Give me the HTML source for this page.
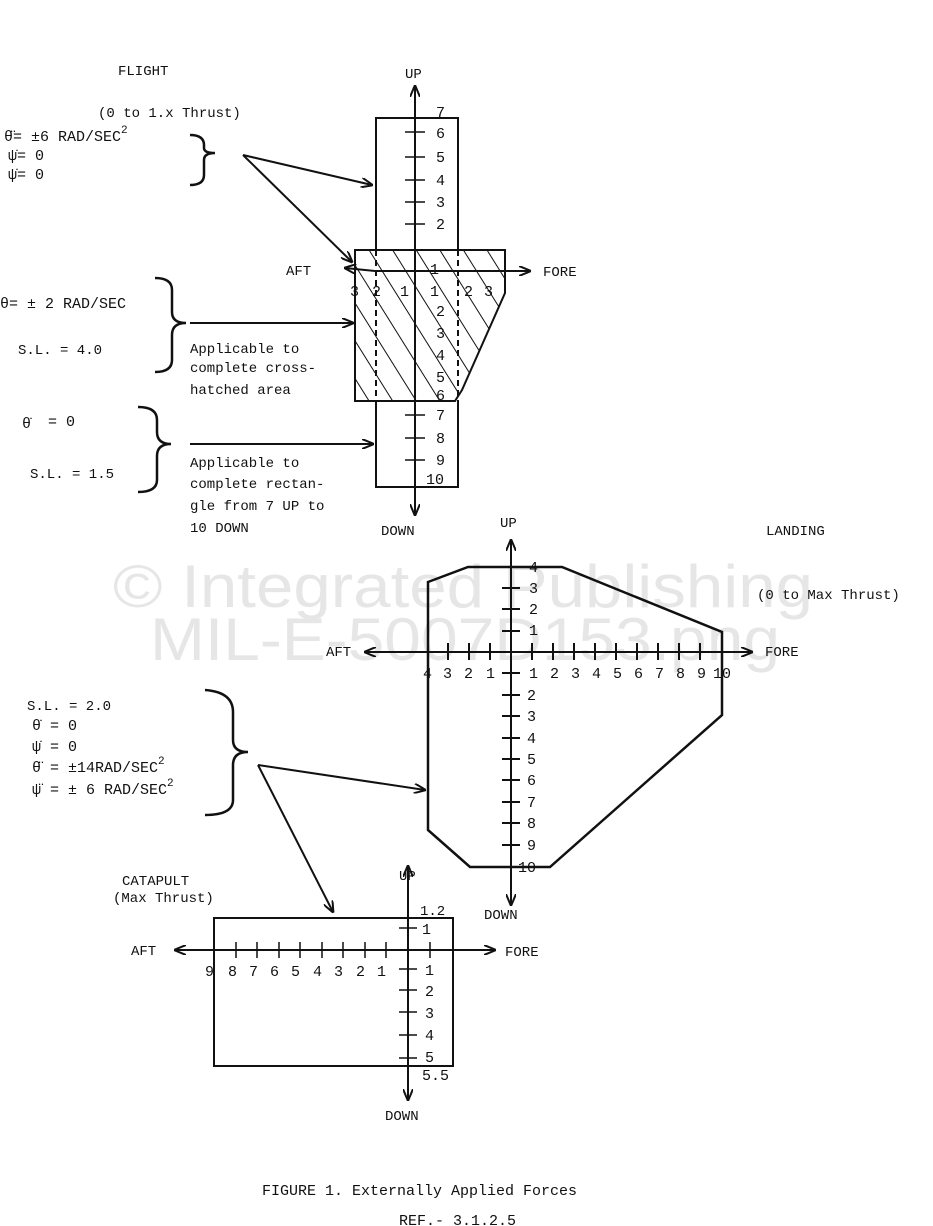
<!DOCTYPE html>
<html><head><meta charset="utf-8"><style>
html,body{margin:0;padding:0;background:#fff;}
svg{display:block}
text{font-family:"Liberation Mono",monospace;font-size:15px;fill:#111}
.s{font-size:14px}
.w{font-family:"Liberation Sans",sans-serif;font-size:60px;fill:#e6e6e6}
</style></head><body>
<svg width="933" height="1226" viewBox="0 0 933 1226" xmlns="http://www.w3.org/2000/svg">
<defs>
<pattern id="h" patternUnits="userSpaceOnUse" width="20" height="20" patternTransform="rotate(-32)">
<line x1="0" y1="0" x2="0" y2="20" stroke="#111" stroke-width="2"/>
</pattern>
<marker id="a" markerWidth="12" markerHeight="10" refX="11" refY="5" orient="auto" markerUnits="userSpaceOnUse"><path d="M0,0 L12,5 L0,10" fill="none" stroke="#111" stroke-width="2"/></marker>
</defs>
<text x="113" y="607" class="w" textLength="700" lengthAdjust="spacingAndGlyphs">© Integrated Publishing</text>
<text x="150" y="660" class="w" textLength="630" lengthAdjust="spacingAndGlyphs">MIL-E-5007D153.png</text>
<g stroke="#111" stroke-width="2" fill="none">
<polygon points="355,250 505,250 505,293 462,390 455,401 355,401" fill="url(#h)"/>
<polyline points="376,250 376,118 458,118 458,250"/>
<polyline points="376,401 376,487 458,487 458,401"/>
<line x1="376" y1="250" x2="376" y2="401" stroke-dasharray="6,4"/>
<line x1="458" y1="250" x2="458" y2="401" stroke-dasharray="6,4"/>
<line x1="415" y1="515" x2="415" y2="86" marker-end="url(#a)"/>
<line x1="415" y1="487" x2="415" y2="515" marker-end="url(#a)"/>
<line x1="375" y1="271" x2="530" y2="271" marker-end="url(#a)"/>
<line x1="375" y1="271" x2="345" y2="268" marker-end="url(#a)"/>
<g stroke-width="1.5">
<line x1="405" y1="132" x2="425" y2="132"/><line x1="405" y1="157" x2="425" y2="157"/><line x1="405" y1="180" x2="425" y2="180"/><line x1="405" y1="202" x2="425" y2="202"/><line x1="405" y1="224" x2="425" y2="224"/>
<line x1="405" y1="415" x2="425" y2="415"/><line x1="405" y1="438" x2="425" y2="438"/><line x1="405" y1="460" x2="425" y2="460"/>
</g>
<line x1="243" y1="155" x2="372" y2="185" marker-end="url(#a)"/>
<line x1="243" y1="155" x2="352" y2="262" marker-end="url(#a)"/>
<line x1="190" y1="323" x2="353" y2="323" marker-end="url(#a)"/>
<line x1="190" y1="444" x2="373" y2="444" marker-end="url(#a)"/>
<g stroke-width="2.5">
<path d="M190,135 Q204,135 204,145 L204,148 Q204,153 215,153 Q204,153 204,160 L204,175 Q204,185 190,185"/>
<path d="M155,278 Q172,278 172,290 L172,312 Q172,323 186,323 Q172,323 172,335 L172,360 Q172,372 155,372"/>
<path d="M138,407 Q157,407 157,420 L157,432 Q157,444 171,444 Q157,444 157,456 L157,480 Q157,492 138,492"/>
<path d="M205,690 Q233,692 233,712 L233,740 Q233,752 248,752 Q233,752 233,765 L233,800 Q233,815 205,815"/>
</g>
<polygon points="428,582 468,567 562,567 722,632 722,715 550,867 470,867 428,830" stroke-width="2.5"/>
<line x1="511" y1="905" x2="511" y2="540" marker-end="url(#a)"/>
<line x1="511" y1="867" x2="511" y2="905" marker-end="url(#a)"/>
<line x1="428" y1="652" x2="752" y2="652" marker-end="url(#a)"/>
<line x1="428" y1="652" x2="365" y2="652" marker-end="url(#a)"/>
<g stroke-width="2">
<line x1="448" y1="643" x2="448" y2="660"/><line x1="469" y1="643" x2="469" y2="660"/><line x1="490" y1="643" x2="490" y2="660"/>
<line x1="532" y1="643" x2="532" y2="660"/><line x1="553" y1="643" x2="553" y2="660"/><line x1="574" y1="643" x2="574" y2="660"/><line x1="595" y1="643" x2="595" y2="660"/><line x1="616" y1="643" x2="616" y2="660"/><line x1="637" y1="643" x2="637" y2="660"/><line x1="658" y1="643" x2="658" y2="660"/><line x1="679" y1="643" x2="679" y2="660"/><line x1="700" y1="643" x2="700" y2="660"/>
<line x1="502" y1="631" x2="520" y2="631"/><line x1="502" y1="609" x2="520" y2="609"/><line x1="502" y1="588" x2="520" y2="588"/>
<line x1="502" y1="673" x2="520" y2="673"/><line x1="502" y1="695" x2="520" y2="695"/><line x1="502" y1="716" x2="520" y2="716"/><line x1="502" y1="738" x2="520" y2="738"/><line x1="502" y1="759" x2="520" y2="759"/><line x1="502" y1="780" x2="520" y2="780"/><line x1="502" y1="802" x2="520" y2="802"/><line x1="502" y1="823" x2="520" y2="823"/><line x1="502" y1="845" x2="520" y2="845"/>
</g>
<line x1="258" y1="765" x2="425" y2="790" marker-end="url(#a)"/>
<line x1="258" y1="765" x2="333" y2="912" marker-end="url(#a)"/>
<rect x="214" y="918" width="239" height="148"/>
<line x1="408" y1="1100" x2="408" y2="866" marker-end="url(#a)"/>
<line x1="408" y1="1066" x2="408" y2="1100" marker-end="url(#a)"/>
<line x1="214" y1="950" x2="495" y2="950" marker-end="url(#a)"/>
<line x1="214" y1="950" x2="175" y2="950" marker-end="url(#a)"/>
<g stroke-width="1.5">
<line x1="236" y1="942" x2="236" y2="958"/><line x1="257" y1="942" x2="257" y2="958"/><line x1="279" y1="942" x2="279" y2="958"/><line x1="300" y1="942" x2="300" y2="958"/><line x1="322" y1="942" x2="322" y2="958"/><line x1="343" y1="942" x2="343" y2="958"/><line x1="365" y1="942" x2="365" y2="958"/><line x1="386" y1="942" x2="386" y2="958"/><line x1="430" y1="942" x2="430" y2="958"/>
<line x1="399" y1="928" x2="417" y2="928"/><line x1="399" y1="969" x2="417" y2="969"/><line x1="399" y1="990" x2="417" y2="990"/><line x1="399" y1="1012" x2="417" y2="1012"/><line x1="399" y1="1035" x2="417" y2="1035"/><line x1="399" y1="1058" x2="417" y2="1058"/>
</g>
</g>
<text x="118" y="75" class="s">FLIGHT</text>
<text x="405" y="78" class="s">UP</text>
<text x="98" y="117" class="s">(0 to 1.x Thrust)</text>
<text x="4" y="141">θ̈= ±6 RAD/SEC<tspan dy="-8" font-size="11">2</tspan></text>
<text x="8" y="160">ψ̇= 0</text>
<text x="8" y="179">ψ̇= 0</text>
<g class="s">
<text x="436" y="117">7</text><text x="436" y="138">6</text><text x="436" y="162">5</text><text x="436" y="185">4</text><text x="436" y="207">3</text><text x="436" y="229">2</text>
<text x="430" y="274">1</text><text x="430" y="296">1</text><text x="436" y="316">2</text><text x="436" y="338">3</text><text x="436" y="360">4</text><text x="436" y="382">5</text><text x="436" y="400">6</text>
<text x="436" y="420">7</text><text x="436" y="443">8</text><text x="436" y="465">9</text><text x="426" y="484">10</text>
<text x="350" y="296">3</text><text x="372" y="296">2</text><text x="400" y="296">1</text><text x="464" y="296">2</text><text x="484" y="296">3</text>
</g>
<text x="286" y="275" class="s">AFT</text>
<text x="543" y="276" class="s">FORE</text>
<text x="0" y="308">θ= ± 2 RAD/SEC</text>
<text x="18" y="354" class="s">S.L. = 4.0</text>
<text x="190" y="353" class="s">Applicable to</text>
<text x="190" y="372" class="s">complete cross-</text>
<text x="190" y="394" class="s">hatched area</text>
<text x="22" y="428" font-size="22">θ̇</text><text x="48" y="426">= 0</text>
<text x="30" y="478" class="s">S.L. = 1.5</text>
<text x="190" y="467" class="s">Applicable to</text>
<text x="190" y="488" class="s">complete rectan-</text>
<text x="190" y="510" class="s">gle from 7 UP to</text>
<text x="190" y="532" class="s">10 DOWN</text>
<text x="381" y="535" class="s">DOWN</text>
<text x="500" y="527" class="s">UP</text>
<text x="766" y="535" class="s">LANDING</text>
<text x="757" y="599" class="s">(0 to Max Thrust)</text>
<text x="326" y="656" class="s">AFT</text>
<text x="765" y="656" class="s">FORE</text>
<g class="s">
<text x="423" y="678">4</text><text x="443" y="678">3</text><text x="464" y="678">2</text><text x="486" y="678">1</text>
<text x="529" y="678">1</text><text x="550" y="678">2</text><text x="571" y="678">3</text><text x="592" y="678">4</text><text x="613" y="678">5</text><text x="634" y="678">6</text><text x="655" y="678">7</text><text x="676" y="678">8</text><text x="697" y="678">9</text><text x="713" y="678">10</text>
<text x="529" y="572">4</text><text x="529" y="593">3</text><text x="529" y="614">2</text><text x="529" y="635">1</text>
<text x="527" y="700">2</text><text x="527" y="721">3</text><text x="527" y="743">4</text><text x="527" y="764">5</text><text x="527" y="785">6</text><text x="527" y="807">7</text><text x="527" y="828">8</text><text x="527" y="850">9</text><text x="518" y="872">10</text>
</g>
<text x="484" y="919" class="s">DOWN</text>
<text x="27" y="710" class="s">S.L. = 2.0</text>
<text x="32" y="730">θ̇ = 0</text>
<text x="32" y="751">ψ̇ = 0</text>
<text x="32" y="772">θ̈ = ±14RAD/SEC<tspan dy="-8" font-size="11">2</tspan></text>
<text x="32" y="794">ψ̈ = ± 6 RAD/SEC<tspan dy="-8" font-size="11">2</tspan></text>
<text x="122" y="885" class="s">CATAPULT</text>
<text x="113" y="902" class="s">(Max Thrust)</text>
<text x="399" y="880" class="s">UP</text>
<text x="420" y="915" class="s">1.2</text>
<text x="131" y="955" class="s">AFT</text>
<text x="505" y="956" class="s">FORE</text>
<g class="s">
<text x="205" y="976">9</text><text x="228" y="976">8</text><text x="249" y="976">7</text><text x="270" y="976">6</text><text x="291" y="976">5</text><text x="313" y="976">4</text><text x="334" y="976">3</text><text x="356" y="976">2</text><text x="377" y="976">1</text>
<text x="422" y="934">1</text><text x="425" y="975">1</text><text x="425" y="996">2</text><text x="425" y="1018">3</text><text x="425" y="1040">4</text><text x="425" y="1062">5</text><text x="422" y="1080">5.5</text>
</g>
<text x="385" y="1120" class="s">DOWN</text>
<text x="262" y="1195" font-size="17">FIGURE 1.  Externally Applied Forces</text>
<text x="399" y="1225" font-size="17">REF.-  3.1.2.5</text>
</svg>
</body></html>
